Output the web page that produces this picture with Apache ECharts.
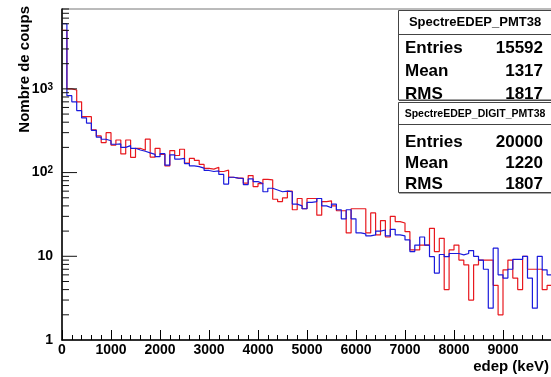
<!DOCTYPE html>
<html>
<head>
<meta charset="utf-8">
<script src="https://cdn.jsdelivr.net/npm/echarts@6.0.0/dist/echarts.min.js"></script>
<style>
html, body { margin: 0; padding: 0; background: #fff; }
#main { width: 551px; height: 377px; }
</style>
</head>
<body>
<div id="main"></div>
<script>
// 100 bins de 100 keV, de 0 a 10000 keV
var binWidth = 100;

// SpectreEDEP_PMT38 (rouge)
var pmt38 = [
  5000, 1000, 970, 700, 465, 465, 323, 274, 228, 300,
  213, 245, 167, 245, 152, 195, 185, 251, 153, 195,
  165, 120, 183, 160, 190, 130, 148, 140, 125, 112,
  110, 116, 103, 107, 88, 86, 86, 75, 92, 68,
  74, 83, 82, 48, 45, 50, 60, 36, 49, 37,
  49, 49, 31, 45, 46, 40, 35, 35, 19, 37,
  37, 37, 19, 33, 18, 26.7, 17, 30, 26, 25,
  19.7, 11.9, 11.9, 13.6, 13.6, 21.6, 11.4, 16.4, 4, 11.9,
  13.6, 9, 7.9, 3, 7.9, 9, 9, 9, 4.5, 2,
  6.9, 9, 5.5, 4, 10, 7, 7, 7, 4, 4.5
];

// SpectreEDEP_DIGIT_PMT38 (bleu)
var digit = [
  6000, 830, 700, 550, 450, 390, 320, 265, 250, 240,
  218, 220, 200, 210, 195, 186, 180, 172, 165, 155,
  168, 123, 163, 145, 148, 128, 120, 118, 113, 106,
  103, 105, 95, 73, 88, 86, 85, 72, 84, 78,
  74, 59, 65, 62, 59, 60, 59, 42, 40, 37,
  44, 45, 49, 40, 38, 42, 36, 28, 36, 28,
  19, 18.5, 17.5, 18, 20, 20.6, 17.5, 21, 18, 17.5,
  15.7, 11.4, 13.6, 17, 13.6, 9.9, 6.3, 10.5, 9.9, 10.8,
  10.8, 10.4, 10.8, 11.7, 10, 9, 7, 2.4, 12.5, 6,
  5.5, 7, 9.2, 9.2, 10, 5.5, 2.4, 10, 6.9, 6
];

// graduations log de l'axe Y
var yTicks = [2, 3, 4, 5, 6, 7, 8, 9, 10, 20, 30, 40, 50, 60, 70, 80, 90, 100,
  200, 300, 400, 500, 600, 700, 800, 900, 1000, 2000, 3000, 4000, 5000, 6000, 7000, 8000, 9000];

var statsPmt = [['Entries', '15592'], ['Mean', '1317'], ['RMS', '1817']];
var statsDigit = [['Entries', '20000'], ['Mean', '1220'], ['RMS', '1807']];

var FONT = 'Liberation Sans, Arial, sans-serif';

function toSteps(arr) {
  var d = arr.map(function (v, i) { return [i * binWidth, v]; });
  d.push([arr.length * binWidth, arr[arr.length - 1]]);
  return d;
}

function isDecade(v) {
  var l = Math.log10(v);
  return Math.abs(l - Math.round(l)) < 1e-9;
}

// boite de stats facon ROOT
function statBox(top, height, title, titleSize, rows, rowY, lineY) {
  var els = [
    { type: 'rect', shape: { x: 399, y: top + 1.5, width: 160, height: height }, style: { fill: '#555' }, z: 100 },
    { type: 'rect', shape: { x: 398.5, y: top + 0.5, width: 160, height: height }, style: { fill: '#fff', stroke: '#444', lineWidth: 1 }, z: 101 },
    { type: 'line', shape: { x1: 398.5, y1: lineY, x2: 551, y2: lineY }, style: { stroke: '#444', lineWidth: 1 }, z: 102 },
    { type: 'text', x: 475, y: (top + lineY) / 2 + 0.5, style: { text: title, font: 'bold ' + titleSize + 'px ' + FONT, fill: '#000', textAlign: 'center', textVerticalAlign: 'middle' }, z: 103 }
  ];
  rows.forEach(function (r, i) {
    els.push({ type: 'text', x: 405, y: rowY[i], style: { text: r[0], font: 'bold 17px ' + FONT, fill: '#000', textAlign: 'left', textVerticalAlign: 'middle' }, z: 103 });
    els.push({ type: 'text', x: 543, y: rowY[i], style: { text: r[1], font: 'bold 17px ' + FONT, fill: '#000', textAlign: 'right', textVerticalAlign: 'middle' }, z: 103 });
  });
  return els;
}

var graphics = [
  { type: 'text', x: 549, y: 367, style: { text: 'edep (keV)', font: 'bold 15px ' + FONT, fill: '#000', textAlign: 'right', textVerticalAlign: 'middle' }, z: 50 },
  { type: 'text', x: 25, y: 6, rotation: Math.PI / 2, style: { text: 'Nombre de coups', font: 'bold 15px ' + FONT, fill: '#000', textAlign: 'right', textVerticalAlign: 'middle' }, z: 50 }
].concat(statBox(10, 89.5, 'SpectreEDEP_PMT38', 13, statsPmt, [48, 71, 94], 34.5))
 .concat(statBox(102, 90, 'SpectreEDEP_DIGIT_PMT38', 10.5, statsDigit, [142.5, 163.5, 184.5], 124.5));

var option = {
  backgroundColor: '#fff',
  animation: false,
  grid: { left: 62, top: 9, width: 490, height: 331, show: true, borderColor: '#777', borderWidth: 1, outerBoundsMode: 'none' },
  xAxis: {
    type: 'value', min: 0, max: 10000, interval: 1000,
    axisLine: { lineStyle: { color: '#000', width: 1.5 } },
    axisTick: { inside: true, length: 10, lineStyle: { color: '#000' } },
    minorTick: { show: true, splitNumber: 5, length: 5, lineStyle: { color: '#000' } },
    splitLine: { show: false },
    axisLabel: {
      margin: 3, color: '#000', fontSize: 14, fontWeight: 'bold', fontFamily: FONT, showMaxLabel: false,
      formatter: function (v) { return String(v); }
    }
  },
  yAxis: {
    type: 'log', logBase: 10, min: 1, max: 9000,
    axisLine: { lineStyle: { color: '#000', width: 1.5 } },
    axisTick: { show: false },
    splitLine: { show: false },
    axisLabel: {
      margin: 9, color: '#000', showMaxLabel: false,
      formatter: function (v) {
        if (!isDecade(v)) return '';
        var e = Math.round(Math.log10(v));
        if (e === 0) return '{n|1}';
        if (e === 1) return '{n|10}';
        return '{n|10}{s|' + e + '}';
      },
      rich: {
        n: { fontSize: 14, fontWeight: 'bold', fontFamily: FONT, color: '#000', verticalAlign: 'bottom' },
        s: { fontSize: 10, fontWeight: 'bold', fontFamily: FONT, color: '#000', verticalAlign: 'top' }
      }
    }
  },
  graphic: graphics,
  series: [
    {
      name: 'SpectreEDEP_PMT38', type: 'line', step: 'end', symbol: 'none',
      data: toSteps(pmt38),
      lineStyle: { color: '#e8181e', width: 1.2 }, z: 2
    },
    {
      name: 'SpectreEDEP_DIGIT_PMT38', type: 'line', step: 'end', symbol: 'none',
      data: toSteps(digit),
      lineStyle: { color: '#1a1adc', width: 1.2 }, z: 3
    },
    {
      type: 'custom', silent: true, z: 4,
      encode: { x: 0, y: 1 },
      data: yTicks.map(function (v) { return [0, v]; }),
      renderItem: function (params, api) {
        var v = api.value(1);
        var p = api.coord([0, v]);
        var len = isDecade(v) ? 15 : 7;
        return { type: 'line', shape: { x1: p[0], y1: p[1], x2: p[0] + len, y2: p[1] }, style: { stroke: '#111', lineWidth: 1 } };
      }
    }
  ]
};

var myChart = echarts.init(document.getElementById('main'));
myChart.setOption(option);
window.addEventListener('resize', function () {
  myChart.resize();
}, false);
</script>
</body>
</html>
